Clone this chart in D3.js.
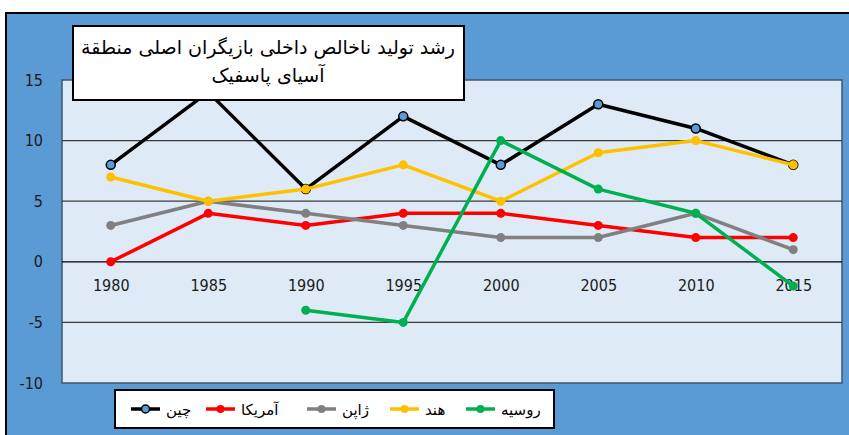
<!DOCTYPE html>
<html>
<head>
<meta charset="utf-8">
<script src="https://cdn.jsdelivr.net/npm/d3@7"></script>
<style>
  body { margin: 0; background: #fff; }
</style>
</head>
<body>
<div id="chart"></div>
<script>
// data
var years = ["1980", "1985", "1990", "1995", "2000", "2005", "2010", "2015"];
var china   = [8, 14, 6, 12, 8, 13, 11, 8];
var america = [0, 4, 3, 4, 4, 3, 2, 2];
var japan   = [3, 5, 4, 3, 2, 2, 4, 1];
var india   = [7, 5, 6, 8, 5, 9, 10, 8];
var russia  = [null, null, -4, -5, 10, 6, 4, -2];
var yTicks  = [-10, -5, 0, 5, 10, 15];
var titleLines = ["رشد تولید ناخالص داخلی بازیگران اصلی منطقة", "آسیای پاسفیک"];

var series = [
  {name: "چین",    values: china,   color: "#000000", marker: "#5B9BD5"},
  {name: "آمریکا", values: america, color: "#FF0000", marker: "#FF0000"},
  {name: "ژاپن",   values: japan,   color: "#808080", marker: "#808080"},
  {name: "هند",    values: india,   color: "#FFC000", marker: "#FFC000"},
  {name: "روسیه",  values: russia,  color: "#00B050", marker: "#00B050"}
];

var W = 849, H = 435;
var plot = {left: 62, top: 80, right: 842, bottom: 383};
var axisFont = "'Liberation Sans Narrow', 'DejaVu Sans Condensed', 'Liberation Sans', sans-serif";

var svg = d3.select("#chart").append("svg")
    .attr("width", W)
    .attr("height", H);

// blue chart background
svg.append("rect")
    .attr("x", 6).attr("y", 13)
    .attr("width", W).attr("height", H)
    .attr("fill", "#5B9BD5")
    .attr("stroke", "#000")
    .attr("stroke-width", 2);

// plot area
svg.append("rect")
    .attr("x", plot.left).attr("y", plot.top)
    .attr("width", plot.right - plot.left)
    .attr("height", plot.bottom - plot.top)
    .attr("fill", "#DEEAF6")
    .attr("stroke", "#44546A")
    .attr("stroke-width", 1.5);

var x = d3.scalePoint()
    .domain(years)
    .range([plot.left, plot.right])
    .padding(0.5);

var y = d3.scaleLinear()
    .domain([-10, 15])
    .range([plot.bottom, plot.top]);

// gridlines
svg.append("g")
  .selectAll("line")
  .data(yTicks.filter(function(d) { return d > -10 && d < 15; }))
  .enter().append("line")
    .attr("x1", plot.left).attr("x2", plot.right)
    .attr("y1", function(d) { return y(d); })
    .attr("y2", function(d) { return y(d); })
    .attr("stroke", function(d) { return d === 0 ? "#000" : "#3a3a3a"; })
    .attr("stroke-width", 1.2);

// y axis labels (plain hyphen for negatives, like the original)
var yAxis = svg.append("g")
    .attr("transform", "translate(" + plot.left + ",0)")
    .call(d3.axisLeft(y).tickValues(yTicks).tickSize(0).tickPadding(19)
      .tickFormat(function(d) { return String(d); }));
yAxis.select(".domain").remove();
yAxis.selectAll("text")
    .style("font-family", axisFont)
    .style("font-size", "16px")
    .attr("fill", "#1a1a1a");

// x axis labels, sitting below the zero line
var xAxis = svg.append("g")
    .attr("transform", "translate(0," + y(0) + ")")
    .call(d3.axisBottom(x).tickSize(0).tickPadding(18));
xAxis.select(".domain").remove();
xAxis.selectAll("text")
    .style("font-family", axisFont)
    .style("font-size", "16px")
    .attr("fill", "#1a1a1a");

var line = d3.line()
    .defined(function(d) { return d.v !== null; })
    .x(function(d) { return x(d.year); })
    .y(function(d) { return y(d.v); });

series.forEach(function(s) {
  var pts = years.map(function(yr, i) { return {year: yr, v: s.values[i]}; });
  var g = svg.append("g");
  g.append("path")
      .datum(pts)
      .attr("d", line)
      .attr("fill", "none")
      .attr("stroke", s.color)
      .attr("stroke-width", 3.5)
      .attr("stroke-linejoin", "round");
  g.selectAll("circle")
    .data(pts.filter(function(d) { return d.v !== null; }))
    .enter().append("circle")
      .attr("cx", function(d) { return x(d.year); })
      .attr("cy", function(d) { return y(d.v); })
      .attr("r", 4.5)
      .attr("fill", s.marker)
      .attr("stroke", s.color)
      .attr("stroke-width", s.name === "چین" ? 1.5 : 0);
});

// title box
svg.append("rect")
    .attr("x", 73).attr("y", 26)
    .attr("width", 391).attr("height", 74)
    .attr("fill", "#fff")
    .attr("stroke", "#000")
    .attr("stroke-width", 2);

svg.append("g").selectAll("text")
  .data(titleLines)
  .enter().append("text")
    .attr("x", 268)
    .attr("y", function(d, i) { return 54 + i * 28; })
    .attr("text-anchor", "middle")
    .attr("direction", "rtl")
    .style("font-family", "'DejaVu Sans', sans-serif")
    .style("font-size", "19px")
    .attr("fill", "#000")
    .text(function(d) { return d; });

// legend
svg.append("rect")
    .attr("x", 115).attr("y", 390)
    .attr("width", 439).attr("height", 38)
    .attr("fill", "#fff")
    .attr("stroke", "#000")
    .attr("stroke-width", 2);

var legendX = [131, 206, 307, 390, 466];
var leg = svg.append("g").selectAll("g")
  .data(series)
  .enter().append("g")
    .attr("transform", function(d, i) { return "translate(" + legendX[i] + ",409)"; });
leg.append("line")
    .attr("x1", 0).attr("x2", 29)
    .attr("stroke", function(d) { return d.color; })
    .attr("stroke-width", 3.5);
leg.append("circle")
    .attr("cx", 14.5).attr("r", 4)
    .attr("fill", function(d) { return d.marker; })
    .attr("stroke", function(d) { return d.color; })
    .attr("stroke-width", function(d) { return d.name === "چین" ? 1.5 : 0; });
leg.append("text")
    .attr("x", 35)
    .attr("y", 6)
    .style("font-family", "'DejaVu Sans', sans-serif")
    .style("font-size", "15px")
    .attr("fill", "#000")
    .text(function(d) { return d.name; });
</script>
</body>
</html>
